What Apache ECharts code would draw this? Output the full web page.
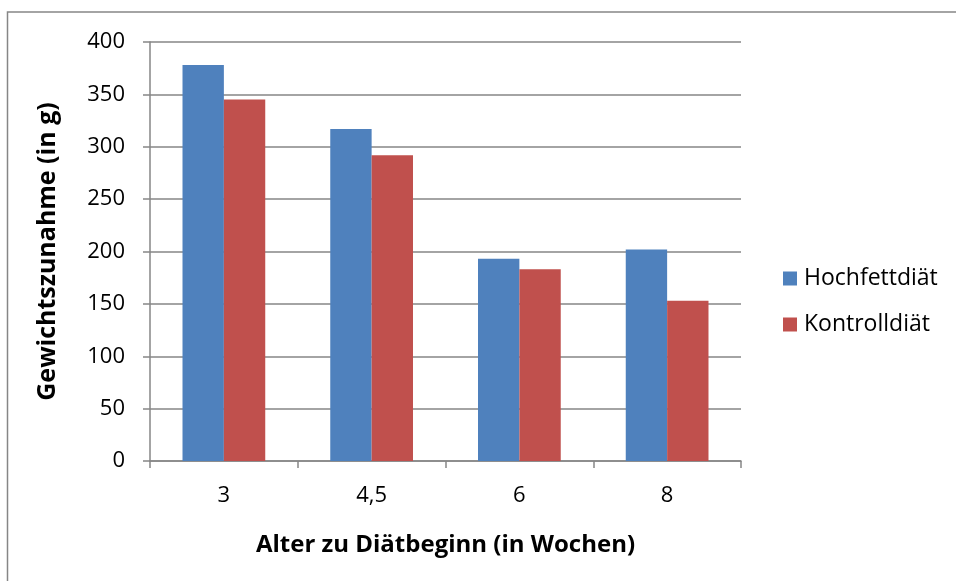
<!DOCTYPE html>
<html>
<head>
<meta charset="utf-8">
<script src="https://cdn.jsdelivr.net/npm/echarts@6/dist/echarts.min.js"></script>
<style>
html,body{margin:0;padding:0;background:#fff;}
#chart{width:956px;height:581px;}
</style>
</head>
<body>
<div id="chart"></div>
<script>
var categories = ['3', '4,5', '6', '8'];
var seriesNames = ['Hochfettdiät', 'Kontrolldiät'];
var hochfett = [378, 317, 193, 202];
var kontroll = [345, 292, 183, 153];
var xTitle = 'Alter zu Diätbeginn (in Wochen)';
var yTitle = 'Gewichtszunahme (in g)';

var FONT = '"Open Sans", "Noto Sans", sans-serif';
var chart = echarts.init(document.getElementById('chart'), null, {renderer: 'canvas'});
chart.setOption({
  animation: false,
  backgroundColor: '#ffffff',
  textStyle: {fontFamily: FONT, color: '#000'},
  graphic: [{
    type: 'rect', silent: true,
    shape: {x: 7.5, y: 12, width: 980, height: 620},
    style: {fill: 'none', stroke: '#868686', lineWidth: 1.5}
  }],
  grid: {left: 150, right: 215, top: 42, bottom: 120, containLabel: false},
  legend: {
    orient: 'vertical', left: 778, top: 262,
    itemWidth: 14, itemHeight: 14, itemGap: 23,
    icon: 'rect',
    textStyle: {fontFamily: FONT, fontSize: 23, color: '#000', padding: [0, 0, 0, 2]},
    data: seriesNames
  },
  xAxis: {
    type: 'category', data: categories,
    name: xTitle, nameLocation: 'middle', nameGap: 72,
    nameTextStyle: {fontFamily: FONT, fontSize: 24, fontWeight: 'bold', color: '#000'},
    axisLine: {lineStyle: {color: '#868686', width: 1.5}},
    axisTick: {show: true, length: 7, lineStyle: {color: '#868686', width: 1.5}},
    axisLabel: {fontFamily: FONT, fontSize: 22, color: '#000', margin: 24}
  },
  yAxis: {
    type: 'value', min: 0, max: 400, interval: 50,
    name: yTitle, nameLocation: 'middle', nameGap: 90, nameRotate: 90,
    nameTextStyle: {fontFamily: FONT, fontSize: 25, fontWeight: 'bold', color: '#000'},
    axisLine: {show: true, lineStyle: {color: '#868686', width: 1.5}},
    axisTick: {show: true, length: 7, lineStyle: {color: '#868686', width: 1.5}},
    splitLine: {show: true, lineStyle: {color: '#868686', width: 1.5}},
    axisLabel: {fontFamily: FONT, fontSize: 22, color: '#000', margin: 25}
  },
  series: [{
    name: seriesNames[0], type: 'bar', data: hochfett,
    barGap: '0%', barCategoryGap: '44%',
    itemStyle: {color: '#4F81BD'}
  }, {
    name: seriesNames[1], type: 'bar', data: kontroll,
    barGap: '0%', barCategoryGap: '44%',
    itemStyle: {color: '#C0504D'}
  }]
});
</script>
</body>
</html>
